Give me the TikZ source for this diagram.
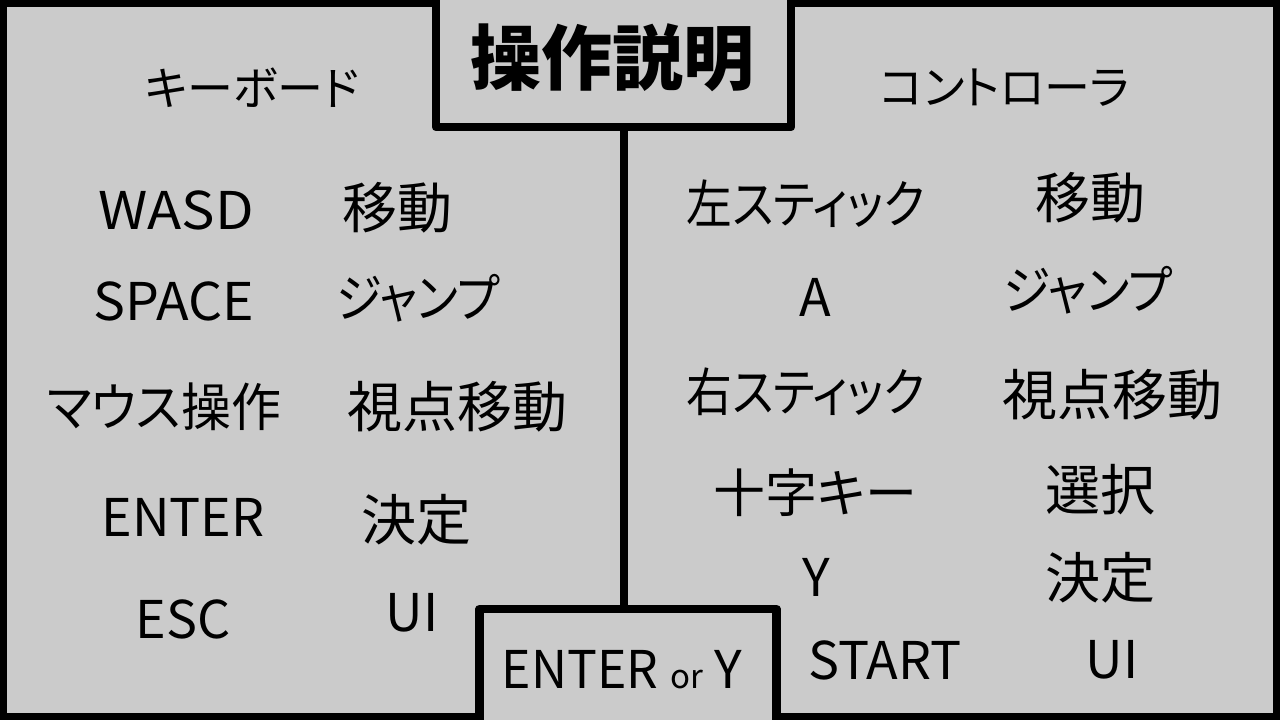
\documentclass[tikz,border=0pt]{standalone}
\usepackage{fontspec}
\usepackage{graphicx}
\setmainfont{Noto Sans CJK JP}[RawFeature=+palt]
\definecolor{bg}{RGB}{203,203,203}
\tikzset{
  frame/.style={line width=7pt, draw=black},
  boxline/.style={line width=8.5pt, draw=black, line join=round},
  lbl/.style={inner sep=0pt, anchor=center, font=\fontsize{52}{60}\selectfont},
  kanji/.style={inner sep=0pt, anchor=center, font=\fontsize{55}{62}\selectfont},
  head/.style={inner sep=0pt, anchor=center, font=\fontsize{46}{54}\selectfont},
  ttl/.style={inner sep=0pt, anchor=center, font=\fontsize{71}{78}\selectfont\bfseries},
}
\newcommand{\sx}[2]{\scalebox{#1}[1]{#2}}
\begin{document}
\begin{tikzpicture}[x=1pt,y=-1pt]
\useasboundingbox (0,0) rectangle (1280,720);
\fill[bg] (0,0) rectangle (1280,720);
\draw[frame] (3.5,3.5) rectangle (1276.5,716.5);
% title box
\fill[bg] (440,0) rectangle (787,123);
\coordinate (tl) at (436,0);
\coordinate (tr) at (791,0);
\draw[boxline] (tl) -- (436,127) -- (791,127) -- (tr);
% bottom box
\fill[bg] (484,613) rectangle (772,720);
\coordinate (bl) at (479.5,720);
\coordinate (br) at (776.5,720);
\draw[boxline] (bl) -- (479.5,609) -- (776.5,609) -- (br);
% center line
\coordinate (vtop) at (624,127);
\coordinate (vbot) at (624,609);
\draw[line width=8pt] (vtop) -- (vbot);

\node[ttl] (title) at (612,58) {操作説明};
\node[head] (kb) at (252,88) {キーボード};
\node[head] (ct) at (1005,88) {コントローラ};

\node[lbl] (k1) at (176,210) {\sx{1.08}{WASD}};
\node[kanji] (k1v) at (397,208) {移動};
\node[lbl] (k2) at (174,301) {\sx{1.03}{SPACE}};
\node[lbl] (k2v) at (418,298) {\sx{0.89}{ジャンプ}};
\node[lbl] (k3) at (164,407) {\sx{0.96}{マウス操作}};
\node[kanji] (k3v) at (457,407) {視点移動};
\node[lbl] (k4) at (183,517) {ENTER};
\node[kanji] (k4v) at (416,520) {決定};
\node[lbl] (k5) at (183,619) {ESC};
\node[lbl] (k5v) at (412,613) {UI};

\node[lbl] (c1) at (806,204) {\sx{0.88}{左スティック}};
\node[kanji] (c1v) at (1090,198) {移動};
\node[lbl] (c2) at (815,297) {A};
\node[lbl] (c2v) at (1088,290) {\sx{0.92}{ジャンプ}};
\node[lbl] (c3) at (806,392) {\sx{0.88}{右スティック}};
\node[kanji] (c3v) at (1112,395) {視点移動};
\node[lbl] (c4) at (815,493) {十字キー};
\node[kanji] (c4v) at (1100,490) {選択};
\node[lbl] (c5) at (816,577) {Y};
\node[kanji] (c5v) at (1100,578) {決定};
\node[lbl] (c6) at (885,660) {START};
\node[lbl] (c6v) at (1112,660) {UI};

\node[lbl] (ey) at (622,670) {\sx{0.96}{ENTER} {\fontsize{33}{36}\selectfont or} Y};
\end{tikzpicture}
\end{document}
